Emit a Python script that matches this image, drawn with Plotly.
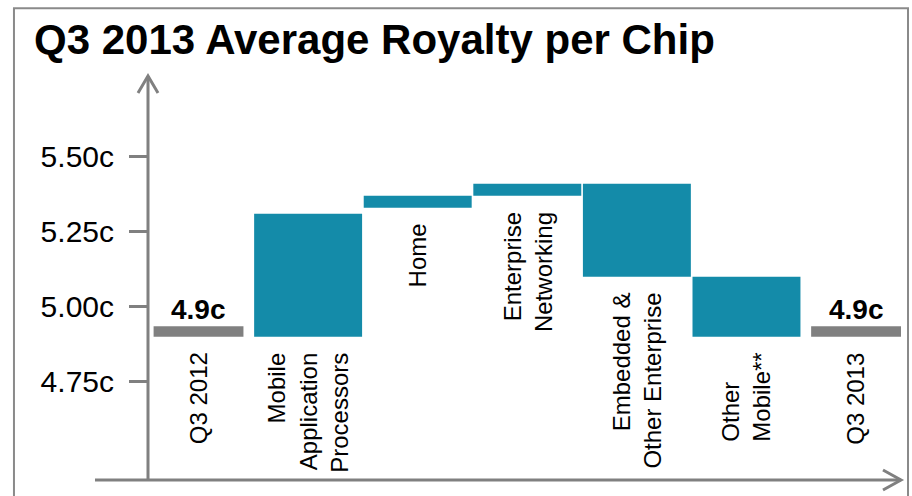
import plotly.graph_objects as go

# Average royalty per chip (US cents), Q3 2012 -> Q3 2013 bridge
start_label, end_label = "Q3 2012", "Q3 2013"
start_value, end_value = 4.9, 4.9

segments = [
    "Mobile Application Processors",
    "Home",
    "Enterprise Networking",
    "Embedded & Other Enterprise",
    "Other Mobile**",
]
segment_labels = [
    "Mobile<br>Application<br>Processors",
    "Home",
    "Enterprise<br>Networking",
    "Embedded &<br>Other Enterprise",
    "Other<br>Mobile**",
]
segment_low = [4.90, 5.33, 5.37, 5.10, 4.90]
segment_high = [5.31, 5.37, 5.41, 5.41, 5.10]
segment_align = ["right", "center", "right", "right", "left"]

tick_vals = [4.75, 5.00, 5.25, 5.50]
tick_text = ["4.75c", "5.00c", "5.25c", "5.50c"]

categories = [start_label] + segments + [end_label]

TEAL = "#148ba9"
GREY = "#808080"
AXIS = "#8a8a8a"
FONT = "Liberation Sans, Arial, sans-serif"
TOTAL_THICKNESS = 0.035  # drawn height of the start/end level bars

fig = go.Figure()

# start / end levels: thin grey bars resting on the value
fig.add_trace(go.Bar(
    x=[start_label, end_label],
    y=[TOTAL_THICKNESS, TOTAL_THICKNESS],
    base=[start_value, end_value],
    width=0.82,
    marker=dict(color=GREY, line=dict(width=0)),
    hoverinfo="skip",
))

# per-segment changes
fig.add_trace(go.Bar(
    x=segments,
    y=[h - l for l, h in zip(segment_low, segment_high)],
    base=segment_low,
    width=0.985,
    marker=dict(color=TEAL, line=dict(width=0)),
    hoverinfo="skip",
))

annotations = []

# value labels above the grey level bars
for cat, val in [(start_label, start_value), (end_label, end_value)]:
    annotations.append(dict(
        x=cat, y=val + TOTAL_THICKNESS, xref="x", yref="y",
        text=f"<b>{val:.1f}c</b>", showarrow=False,
        xanchor="center", yanchor="bottom", yshift=-1,
        font=dict(family=FONT, size=28, color="black"),
    ))

# rotated category labels under each bar
label_rows = (
    [(start_label, start_label, start_value, "center")]
    + list(zip(segments, segment_labels, segment_low, segment_align))
    + [(end_label, end_label, end_value, "center")]
)
for cat, text, low, align in label_rows:
    annotations.append(dict(
        x=cat, y=low, xref="x", yref="y",
        text=text, showarrow=False, textangle=-90, align=align,
        xanchor="center", yanchor="top", yshift=-14,
        font=dict(family=FONT, size=24, color="black"),
    ))

shapes = [
    # outer frame
    dict(type="rect", xref="paper", yref="paper",
         x0=-0.178, x1=1.0093, y0=-0.07, y1=1.168,
         line=dict(color=AXIS, width=2), fillcolor="rgba(0,0,0,0)", layer="below"),
    # y axis line
    dict(type="line", xref="paper", yref="paper", x0=0, x1=0, y0=0, y1=1,
         line=dict(color=GREY, width=3)),
    # x axis line (runs a little left of the y axis)
    dict(type="line", xref="paper", yref="paper", x0=-0.0704, x1=1, y0=0, y1=0,
         line=dict(color=GREY, width=3)),
    # arrowheads
    dict(type="path", xref="paper", yref="paper",
         xsizemode="pixel", ysizemode="pixel", xanchor=0, yanchor=1,
         path="M -10,-17 L 0,0 L 10,-17",
         line=dict(color=GREY, width=3)),
    dict(type="path", xref="paper", yref="paper",
         xsizemode="pixel", ysizemode="pixel", xanchor=1, yanchor=0,
         path="M -18,10 L 0,0 L -18,-10",
         line=dict(color=GREY, width=3)),
]

fig.update_layout(
    width=912, height=496,
    margin=dict(l=148, r=11, t=76, b=16),
    paper_bgcolor="white", plot_bgcolor="white",
    barmode="overlay", showlegend=False,
    title=dict(
        text="<b>Q3 2013 Average Royalty per Chip</b>",
        font=dict(family=FONT, size=42, color="black"),
        x=34 / 912, xanchor="left", xref="container",
        y=1 - 25 / 496, yanchor="top", yref="container",
    ),
    xaxis=dict(
        type="category", categoryorder="array", categoryarray=categories,
        range=[-0.461, 6.41], showticklabels=False, ticks="",
        showgrid=False, zeroline=False, showline=False, fixedrange=True,
    ),
    yaxis=dict(
        range=[4.4223, 5.769], tickvals=tick_vals, ticktext=tick_text,
        ticks="outside", ticklen=18, tickwidth=3, tickcolor=GREY,
        ticklabelstandoff=9,
        tickfont=dict(family=FONT, size=30, color="black"),
        showgrid=False, zeroline=False, showline=False, fixedrange=True,
    ),
    annotations=annotations,
    shapes=shapes,
)

fig.write_html("out.html")
